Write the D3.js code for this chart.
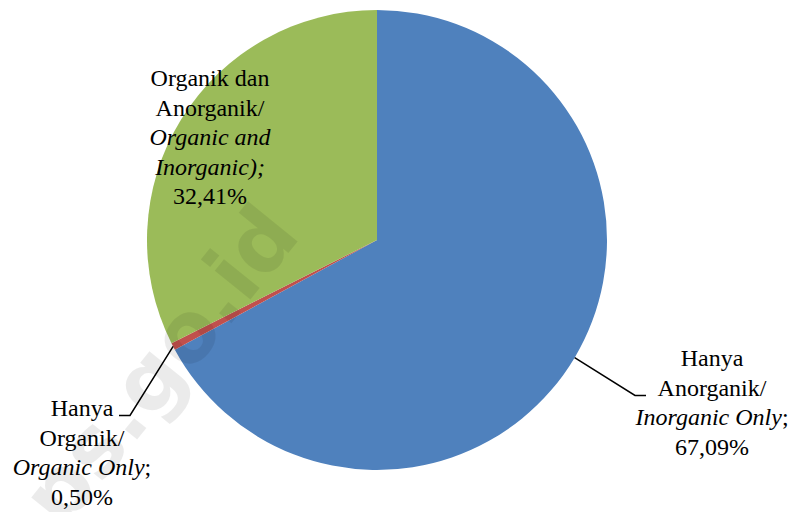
<!DOCTYPE html>
<html><head><meta charset="utf-8"><script src="https://cdn.jsdelivr.net/npm/d3@7"></script></head>
<body style="margin:0">
<svg id="chart" width="792" height="512"></svg>
<script>
// Fertiliser use by type (share of households, %)
const categories = [
  "Hanya Anorganik/Inorganic Only",
  "Hanya Organik/Organic Only",
  "Organik dan Anorganik/Organic and Inorganic"
];
const values = [67.09, 0.50, 32.41];
const colors = ["#4F81BD", "#C0504D", "#9BBB59"];

// Label lines: each line is a list of [text, italic] runs
const labelLines = [
  [[["Hanya", false]], [["Anorganik/", false]], [["Inorganic Only", true], [";", false]]],
  [[["Hanya", false]], [["Organik/", false]], [["Organic Only", true], [";", false]]],
  [[["Organik dan", false]], [["Anorganik/", false]], [["Organic and", true]], [["Inorganic);", true]]]
];

const cx = 377, cy = 240, radius = 230;
const lineHeight = 29.5;

// Label block placement: centre x, first baseline y, leader elbow (if any)
const labelLayout = [
  { x: 712, y: 366, elbow: [635, 395.5], end: 646 },
  { x: 82,  y: 416, elbow: [130, 415.5], end: 119 },
  { x: 210, y: 86,  elbow: null }
];

const fmt = v => v.toFixed(2).replace(".", ",") + "%";

const svg = d3.select("#chart");

const pie = d3.pie().sort(null).value(d => d.value);
const arcs = pie(values.map((v, i) => ({ value: v, name: categories[i], i })));
const arc = d3.arc().innerRadius(0).outerRadius(radius);

const g = svg.append("g").attr("transform", `translate(${cx},${cy})`);
g.selectAll("path.slice")
  .data(arcs)
  .join("path")
  .attr("class", "slice")
  .attr("d", arc)
  .attr("fill", (d, i) => colors[i]);

// Watermark
svg.append("text")
  .attr("transform", "translate(302,236) rotate(-51)")
  .attr("text-anchor", "end")
  .attr("font-family", "DejaVu Sans")
  .attr("font-weight", "bold")
  .attr("font-size", 84)
  .attr("fill", "#000")
  .attr("fill-opacity", 0.08)
  .text("bps.go.id");

// Leader lines
arcs.forEach((d, i) => {
  const L = labelLayout[i];
  if (!L.elbow) return;
  const mid = (d.startAngle + d.endAngle) / 2;
  const sx = cx + radius * Math.sin(mid), sy = cy - radius * Math.cos(mid);
  svg.append("polyline")
    .attr("points", [[sx, sy], L.elbow, [L.end, L.elbow[1]]].map(p => p.join(",")).join(" "))
    .attr("fill", "none")
    .attr("stroke", "#000")
    .attr("stroke-width", 1.5);
});

// Labels: a serif group; each run is its own text element, centred per line
const labelLayer = svg.append("g")
  .attr("class", "labels")
  .attr("font-family", "Times New Roman")
  .attr("font-size", 24)
  .attr("fill", "#000");

arcs.forEach((d, i) => {
  const L = labelLayout[i];
  const lines = labelLines[i].concat([[[fmt(d.data.value), false]]]);
  lines.forEach((runs, li) => {
    const nodes = runs.map(r => labelLayer.append("text")
      .attr("font-style", r[1] ? "italic" : null)
      .text(r[0]));
    const widths = nodes.map(n => n.node().getComputedTextLength());
    let x = L.x - d3.sum(widths) / 2;
    nodes.forEach((n, k) => {
      n.attr("x", x).attr("y", L.y + li * lineHeight);
      x += widths[k];
    });
  });
});
</script>
</body></html>
